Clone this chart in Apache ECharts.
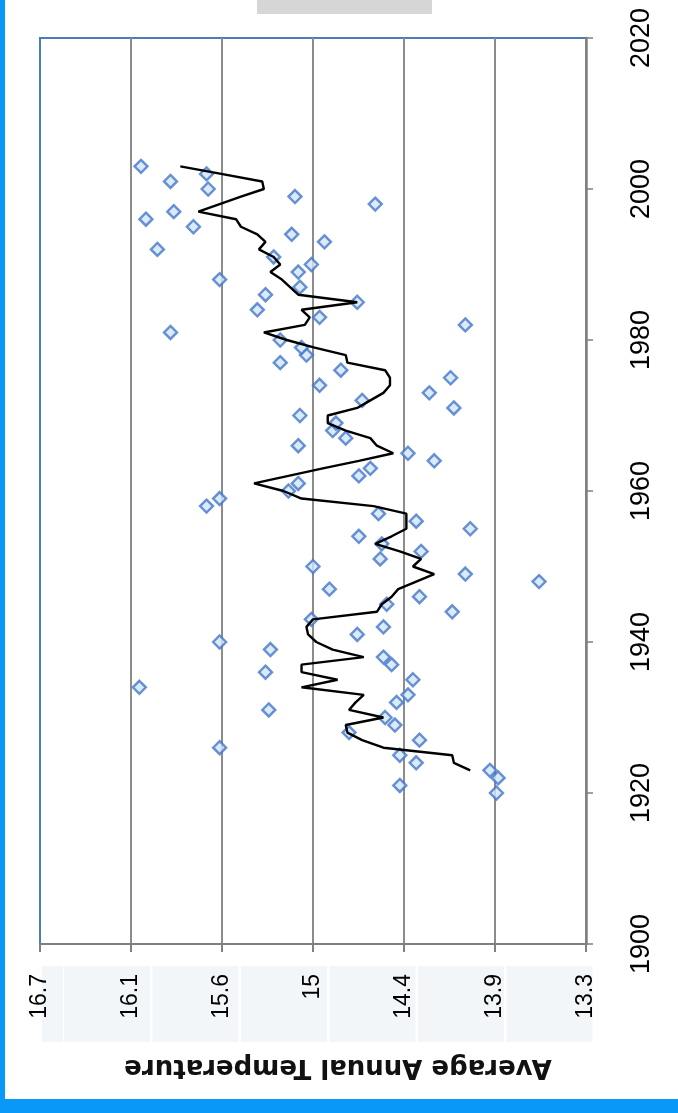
<!DOCTYPE html>
<html>
<head>
<meta charset="utf-8">
<script src="https://cdn.jsdelivr.net/npm/echarts@6/dist/echarts.min.js"></script>
<style>html,body{margin:0;padding:0;background:#fff}#c{width:678px;height:1113px}</style>
</head>
<body>
<div id="c"></div>
<script>
// ---- data ----
const scatterYears = [1920,1921,1922,1923,1924,1925,1926,1927,1928,1929,1930,1931,1932,1933,1934,1935,1936,1937,1938,1939,1940,1941,1942,1943,1944,1945,1946,1947,1948,1949,1950,1951,1952,1953,1954,1955,1956,1957,1958,1959,1960,1961,1962,1963,1964,1965,1966,1967,1968,1969,1970,1971,1972,1973,1974,1975,1976,1977,1978,1979,1980,1981,1982,1983,1984,1985,1986,1987,1988,1989,1990,1991,1992,1993,1994,1995,1996,1997,1998,1999,2000,2001,2002,2003];
const scatterTemps = [13.88,14.47,13.87,13.92,14.37,14.47,15.57,14.35,14.78,14.50,14.56,15.27,14.49,14.42,16.06,14.39,15.29,14.52,14.57,15.26,15.57,14.73,14.57,15.01,14.15,14.55,14.35,14.90,13.62,14.07,15.00,14.59,14.34,14.58,14.72,14.04,14.37,14.60,15.65,15.57,15.15,15.09,14.72,14.65,14.26,14.42,15.09,14.80,14.88,14.86,15.08,14.14,14.70,14.29,14.96,14.16,14.83,15.20,15.04,15.07,15.20,15.87,14.07,14.96,15.34,14.73,15.29,15.08,15.57,15.09,15.01,15.24,15.95,14.93,15.13,15.73,16.02,15.85,14.62,15.11,15.64,15.87,15.65,16.05];
const lineYears = [1923,1924,1925,1926,1927,1928,1929,1930,1931,1932,1933,1934,1935,1936,1937,1938,1939,1940,1941,1942,1943,1944,1945,1946,1947,1948,1949,1950,1951,1952,1953,1954,1955,1956,1957,1958,1959,1960,1961,1962,1963,1964,1965,1966,1967,1968,1969,1970,1971,1972,1973,1974,1975,1976,1977,1978,1979,1980,1981,1982,1983,1984,1985,1986,1987,1988,1989,1990,1991,1992,1993,1994,1995,1996,1997,1998,1999,2000,2001,2002,2003];
const lineTemps = [14.04,14.14,14.15,14.57,14.70,14.79,14.80,14.57,14.78,14.74,14.69,15.07,14.85,15.07,15.07,14.69,14.88,14.98,15.03,15.04,15.00,14.61,14.58,14.52,14.48,14.37,14.26,14.39,14.34,14.47,14.62,14.52,14.43,14.43,14.43,14.63,15.07,15.18,15.36,15.15,14.94,14.72,14.51,14.61,14.65,14.80,14.91,14.91,14.73,14.65,14.57,14.53,14.53,14.56,14.79,14.80,14.99,15.16,15.30,15.05,15.02,15.07,14.73,15.09,15.14,15.19,15.26,15.20,15.24,15.33,15.29,15.34,15.44,15.47,15.70,15.57,15.44,15.30,15.31,15.56,15.81];
const tempTickLabels = ['13.3','13.9','14.4','15','15.6','16.1','16.7'];
const yearTickLabels = ['1900','1920','1940','1960','1980','2000','2020'];
const axisTitle = 'Average Annual Temperature';

// ---- axis config (temperature axis ticks at 56..62 °F expressed in °C) ----
const T_STEP = 5 / 9;
const T_MIN = 24 * T_STEP;
const T_MAX = 30 * T_STEP;

const frameGraphics = [
  {type: 'rect', left: 0, top: 0, shape: {width: 5, height: 1113}, style: {fill: '#0a98f8'}, z: 100},
  {type: 'rect', left: 0, top: 1099, shape: {width: 678, height: 14}, style: {fill: '#0a98f8'}, z: 100},
  {type: 'rect', left: 257, top: 0, shape: {width: 175, height: 14}, style: {fill: '#d6d6d6'}, z: 100}
];

const chart = echarts.init(document.getElementById('c'), null, {renderer: 'canvas'});
chart.setOption({
  animation: false,
  backgroundColor: '#ffffff',
  grid: {left: 40, right: 92, top: 38, bottom: 169, show: true, borderColor: '#4a7ebb', borderWidth: 2, backgroundColor: 'transparent'},
  xAxis: {
    type: 'value', inverse: true, min: T_MIN, max: T_MAX, interval: T_STEP, position: 'bottom',
    name: axisTitle, nameLocation: 'middle', nameRotate: 180, nameGap: 110,
    nameTextStyle: {fontFamily: 'DejaVu Sans', fontWeight: 'bold', fontSize: 26, color: '#111', padding: [0, 50, 0, 0]},
    axisLine: {show: true, onZero: false, lineStyle: {color: '#808080', width: 2}},
    axisTick: {show: true, length: 8, lineStyle: {color: '#808080', width: 2}},
    axisLabel: {rotate: 90, margin: 30, fontFamily: 'Liberation Sans, Arial', fontSize: 23, color: '#000',
      formatter: function (v) { const i = Math.round((v - T_MIN) / T_STEP); return tempTickLabels[i] || ''; }},
    splitLine: {show: true, showMaxLine: false, lineStyle: {color: '#8c8c8c', width: 2}}
  },
  yAxis: {
    type: 'value', min: 1900, max: 2020, interval: 20, position: 'right',
    axisLine: {show: true, onZero: false, lineStyle: {color: '#808080', width: 2.5}},
    axisTick: {show: true, length: 7, lineStyle: {color: '#808080', width: 1.5}},
    axisLabel: {rotate: 90, margin: 42, fontFamily: 'Liberation Sans, Arial', fontSize: 27, color: '#000',
      formatter: function (v) { const i = Math.round((v - 1900) / 20); return yearTickLabels[i] || ''; }},
    splitLine: {show: false}
  },
  series: [
    {
      type: 'scatter', symbol: 'diamond', symbolSize: 13,
      itemStyle: {color: '#cfe6f8', borderColor: '#4576c8', borderWidth: 2.4},
      data: scatterYears.map((y, i) => [scatterTemps[i], y]), z: 2
    },
    {
      type: 'line', showSymbol: false, symbol: 'none',
      lineStyle: {color: '#000', width: 2.4},
      data: lineYears.map((y, i) => [lineTemps[i], y]), z: 3
    }
  ],
  graphic: frameGraphics
});

// faint boxes behind the temperature tick labels (decoration, placed from the axis scale)
const plotLeft = chart.convertToPixel({xAxisIndex: 0}, T_MAX);
const plotRight = chart.convertToPixel({xAxisIndex: 0}, T_MIN);
const step = (plotRight - plotLeft) / 6;
const boxes = [{type: 'rect', left: plotLeft + 2, top: 966, shape: {width: 21, height: 76}, style: {fill: '#f3f6f9'}, z: -10, silent: true}];
for (let i = 0; i < 6; i++) {
  const x0 = plotLeft + 24 + i * (step - 2.5);
  boxes.push({type: 'rect', left: x0, top: 966, shape: {width: step - 5, height: 76}, style: {fill: '#f3f6f9'}, z: -10, silent: true});
}
chart.setOption({graphic: frameGraphics.concat(boxes)});
</script>
</body>
</html>
